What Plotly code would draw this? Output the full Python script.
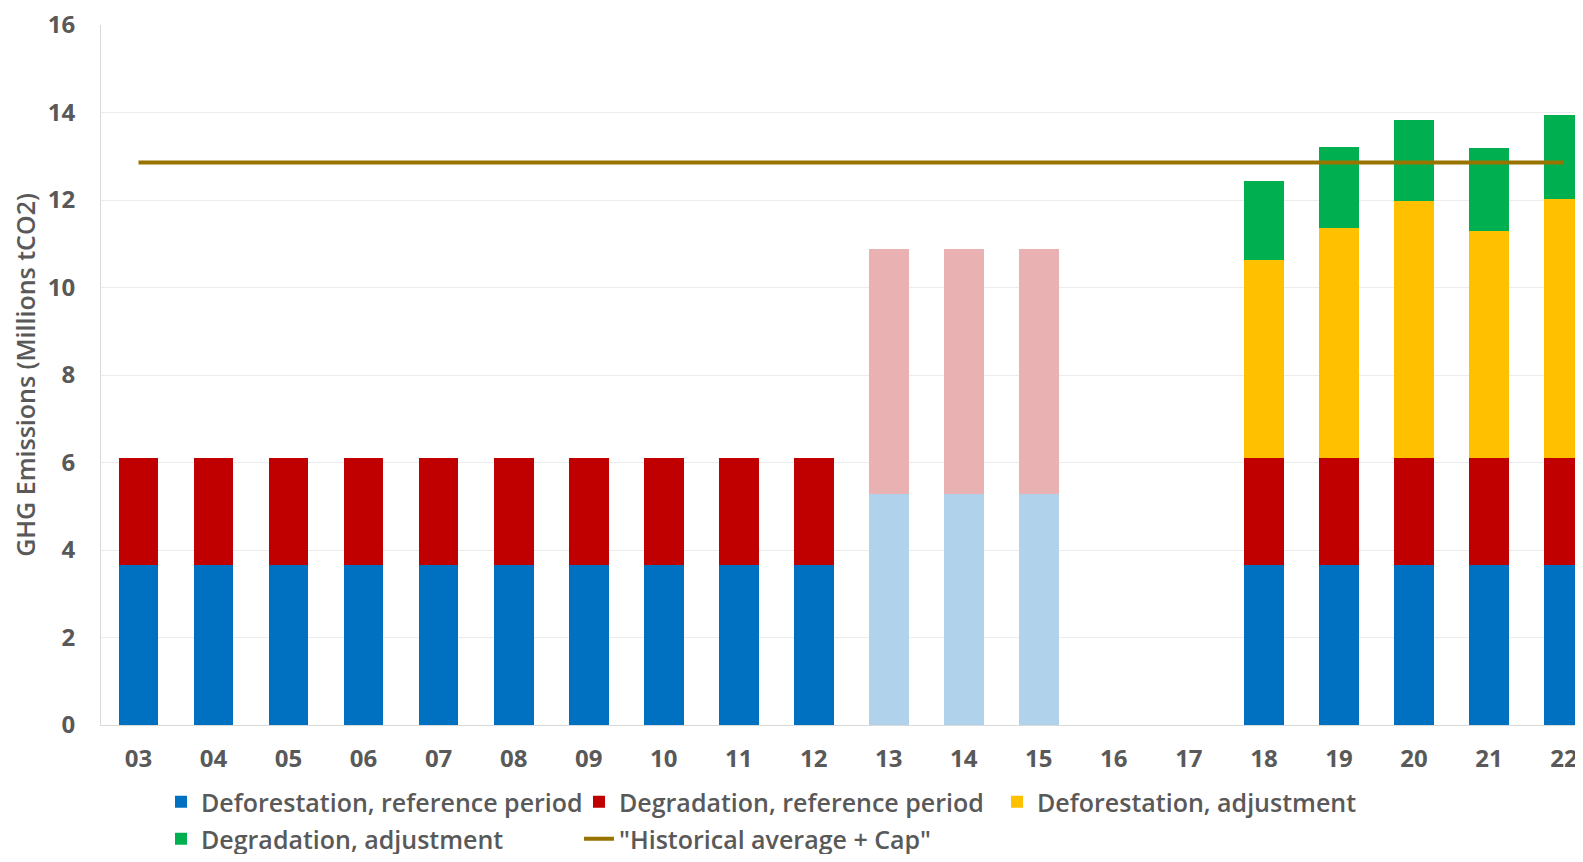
import plotly.graph_objects as go

years = ["03", "04", "05", "06", "07", "08", "09", "10", "11", "12",
         "13", "14", "15", "16", "17", "18", "19", "20", "21", "22"]

defor_ref = [3.66, 3.66, 3.66, 3.66, 3.66, 3.66, 3.66, 3.66, 3.66, 3.66,
             None, None, None, None, None, 3.66, 3.66, 3.66, 3.66, 3.66]
degr_ref = [2.44, 2.44, 2.44, 2.44, 2.44, 2.44, 2.44, 2.44, 2.44, 2.44,
            None, None, None, None, None, 2.44, 2.44, 2.44, 2.44, 2.44]
defor_proj = [None, None, None, None, None, None, None, None, None, None,
              5.27, 5.27, 5.27, None, None, None, None, None, None, None]
degr_proj = [None, None, None, None, None, None, None, None, None, None,
             5.62, 5.62, 5.62, None, None, None, None, None, None, None]
defor_adj = [None, None, None, None, None, None, None, None, None, None,
             None, None, None, None, None, 4.53, 5.27, 5.87, 5.20, 5.93]
degr_adj = [None, None, None, None, None, None, None, None, None, None,
            None, None, None, None, None, 1.81, 1.84, 1.86, 1.89, 1.92]
cap = [12.86, 12.86, 12.86, 12.86, 12.86, 12.86, 12.86, 12.86, 12.86, 12.86,
       12.86, 12.86, 12.86, 12.86, 12.86, 12.86, 12.86, 12.86, 12.86, 12.86]

FONT = "Open Sans"
TXT = "#595959"
W, H = 1583, 846
fig = go.Figure()
fig.add_trace(go.Bar(x=years, y=defor_ref, name="Deforestation, reference period",
                     marker=dict(color="#0070C0", line=dict(width=0)), legend="legend"))
fig.add_trace(go.Bar(x=years, y=degr_ref, name="Degradation, reference period",
                     marker=dict(color="#C00000", line=dict(width=0)), legend="legend"))
fig.add_trace(go.Bar(x=years, y=defor_proj, name="Deforestation, projected", showlegend=False,
                     marker=dict(color="#B0D2EA", line=dict(width=0))))
fig.add_trace(go.Bar(x=years, y=degr_proj, name="Degradation, projected", showlegend=False,
                     marker=dict(color="#E9B1B1", line=dict(width=0))))
fig.add_trace(go.Bar(x=years, y=defor_adj, name="Deforestation, adjustment",
                     marker=dict(color="#FFC000", line=dict(width=0)), legend="legend"))
fig.add_trace(go.Bar(x=years, y=degr_adj, name="Degradation, adjustment",
                     marker=dict(color="#00B050", line=dict(width=0)), legend="legend2"))
fig.add_trace(go.Scatter(x=years, y=cap, name='"Historical average + Cap"', mode="lines",
                         line=dict(color="#997300", width=4), legend="legend2"))

leg_common = dict(orientation="h", xref="container", yref="container",
                  x=153 / W, xanchor="left", yanchor="middle",
                  entrywidth=373, entrywidthmode="pixels", traceorder="normal",
                  font=dict(size=25, color=TXT, family=FONT, weight=600),
                  bgcolor="rgba(0,0,0,0)", itemwidth=30)

fig.update_layout(
    width=W, height=H,
    barmode="stack", bargap=0.47,
    plot_bgcolor="white", paper_bgcolor="white",
    margin=dict(l=93, r=0, t=17, b=129, autoexpand=False),
    font=dict(family=FONT, color=TXT),
    xaxis=dict(type="category", range=[-0.5, 19.36],
               tickfont=dict(size=24, color=TXT, family=FONT, weight="bold"),
               showline=True, linecolor="#D9D9D9", linewidth=1,
               showgrid=False, ticks="", ticklabelstandoff=12),
    yaxis=dict(range=[0, 16], dtick=2,
               tickfont=dict(size=24, color=TXT, family=FONT, weight="bold"),
               showgrid=True, gridcolor="#ECECEC", gridwidth=1,
               showline=True, linecolor="#D9D9D9", linewidth=1,
               zeroline=False, ticks="", ticklabelstandoff=20,
               ticklabeloverflow="allow",
               title=dict(text="GHG Emissions (Millions tCO2)",
                          font=dict(size=25, color=TXT, family=FONT, weight=600), standoff=6)),
    legend=dict(y=1 - 794 / H, **leg_common),
    legend2=dict(y=1 - 831 / H, **leg_common),
)

fig.write_html("out.html")
